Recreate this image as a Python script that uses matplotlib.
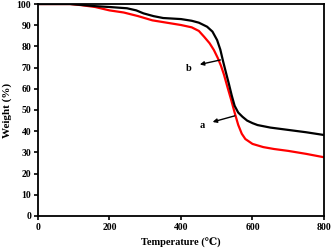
import matplotlib
matplotlib.use('Agg')
import matplotlib.pyplot as plt

# curve a (red)
temp_a = [0, 90, 120, 160, 200, 240, 280, 320, 360, 400, 430, 450, 465, 480, 492, 503,
          512, 520, 530, 540, 550, 560, 570, 580, 600, 630, 660, 700, 750, 800]
weight_a = [100, 100, 99.5, 98.6, 97.0, 96.0, 94.3, 92.3, 91.2, 90.1, 89.0, 87.3, 84.5,
            81.5, 78.3, 74.5, 70.8, 66.8, 60.8, 55.0, 48.8, 43.0, 38.8, 36.3, 34.0,
            32.5, 31.6, 30.7, 29.3, 27.7]

# curve b (black)
temp_b = [0, 90, 120, 160, 200, 249, 275, 295, 323, 350, 400, 430, 450, 473, 488, 501,
          510, 518, 526, 534, 542, 550, 560, 572, 585, 600, 614, 650, 700, 750, 800]
weight_b = [100, 100, 99.6, 99.0, 98.6, 98.0, 97.0, 95.6, 94.3, 93.4, 92.9, 92.1, 91.2,
            89.3, 87.0, 83.0, 78.5, 72.8, 67.5, 62.3, 56.8, 52.0, 48.8, 46.8, 45.0,
            43.8, 42.9, 41.7, 40.6, 39.5, 38.2]

plt.rcParams['font.family'] = ['Liberation Serif', 'DejaVu Serif']
plt.rcParams['font.weight'] = 'bold'

fig = plt.figure(figsize=(3.33, 2.52), dpi=100)
ax = fig.add_axes([0.114, 0.143, 0.859, 0.841])

ax.plot(temp_a, weight_a, color='red', lw=1.6)
ax.plot(temp_b, weight_b, color='black', lw=1.6)

arrow = dict(arrowstyle='-|>', color='black', lw=1.0, mutation_scale=6)
ax.annotate('b', xy=(445, 71.2), xytext=(430, 69.7), fontsize=7.5, fontweight='bold',
            ha='right', va='center')
ax.annotate('', xy=(445, 71.2), xytext=(518, 73.9), arrowprops=arrow)
ax.annotate('a', xy=(481, 44), xytext=(467, 42.5), fontsize=7.5, fontweight='bold',
            ha='right', va='center')
ax.annotate('', xy=(481, 44), xytext=(558, 47.6), arrowprops=arrow)

ax.set_xlim(0, 800)
ax.set_ylim(0, 100)
ax.set_xticks([0, 200, 400, 600, 800])
ax.set_yticks(range(0, 101, 10))
ax.tick_params(direction='out', length=3, width=1.2, labelsize=7, pad=2)
for s in ax.spines.values():
    s.set_linewidth(1.3)

ax.set_xlabel('Temperature (\u2103)', fontsize=7.5, fontweight='bold', labelpad=4)
ax.set_ylabel('Weight (%)', fontsize=8, fontweight='bold', labelpad=3)

fig.savefig('out.png', dpi=100)
